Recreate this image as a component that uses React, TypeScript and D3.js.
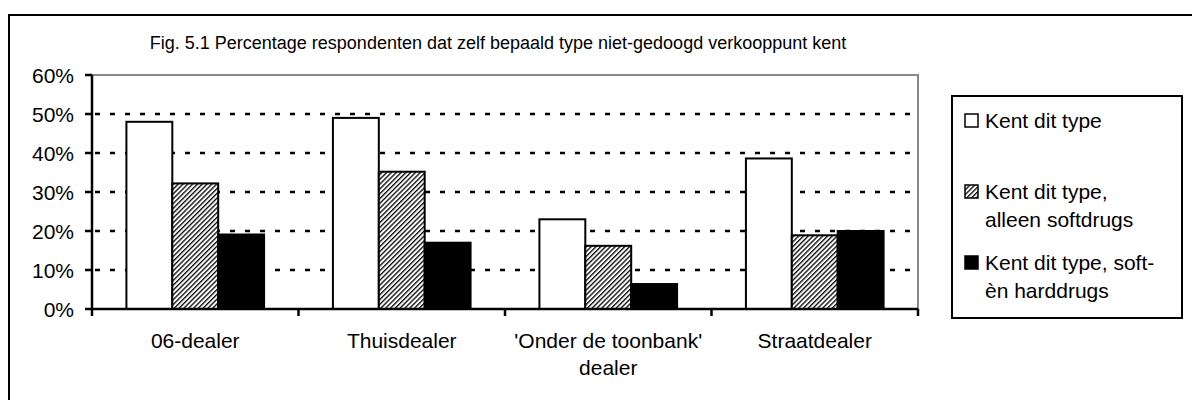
import React from 'react'
import * as d3 from 'd3'

const categories = ['06-dealer', 'Thuisdealer', "'Onder de toonbank' dealer", 'Straatdealer']
const categoryLines = [['06-dealer'], ['Thuisdealer'], ["'Onder de toonbank'", 'dealer'], ['Straatdealer']]
const series = ['kent', 'soft', 'hard']
const kentValues = [0.48, 0.49, 0.23, 0.386]
const softValues = [0.322, 0.352, 0.162, 0.189]
const hardValues = [0.191, 0.17, 0.064, 0.2]
const yTicks = [0, 0.1, 0.2, 0.3, 0.4, 0.5, 0.6]
const legendLabels = [['Kent dit type'], ['Kent dit type,', 'alleen softdrugs'], ['Kent dit type, soft-', 'èn harddrugs']]

const title = 'Fig. 5.1 Percentage respondenten dat zelf bepaald type niet-gedoogd verkooppunt kent'
const font = '"Liberation Sans", Arial, sans-serif'

const left = 92
const right = 918
const top = 75
const bottom = 309

const x0 = d3.scaleBand().domain(categories).range([left, right])
const x1 = d3
  .scaleBand()
  .domain(series)
  .range([0, x0.bandwidth()])
  .paddingInner(0)
  .paddingOuter(0.75)
const y = d3.scaleLinear().domain([0, 0.6]).range([bottom, top])

const valuesBySeries = [kentValues, softValues, hardValues]
const fills = ['#fff', 'url(#hatch)', '#000']

// legend baselines per item (layout)
const legendRows = [[128], [199, 227], [270, 298]]

export default function App() {
  return (
    <svg
      width={1192}
      height={400}
      style={{ position: 'absolute', left: 0, top: 0, background: '#fff' }}
      fontFamily={font}
      fontSize={21}
    >
      <defs>
        <pattern id="hatch" patternUnits="userSpaceOnUse" width={3.4} height={3.4} patternTransform="rotate(45)">
          <rect width={3.4} height={3.4} fill="#fff" />
          <line x1={0.7} y1={0} x2={0.7} y2={3.4} stroke="#000" strokeWidth={1.3} />
        </pattern>
      </defs>

      <rect x={9} y={15} width={1250} height={450} fill="none" stroke="#000" strokeWidth={2} />

      <text x={498} y={49} textAnchor="middle" fill="#000" fontSize={18}>
        {title}
      </text>

      {/* gridlines */}
      {yTicks
        .filter(t => t > 0 && t < 0.6)
        .map(t => (
          <line
            key={t}
            x1={left}
            x2={right}
            y1={y(t)}
            y2={y(t)}
            stroke="#000"
            strokeWidth={2.5}
            strokeDasharray="5 10"
            strokeDashoffset={-3}
          />
        ))}

      {/* plot area border (top and right) */}
      <polyline
        points={`${left},${y(0.6)} ${right},${y(0.6)} ${right},${y(0)}`}
        fill="none"
        stroke="#888"
        strokeWidth={2}
      />

      {/* bars */}
      {categories.map((c, i) => (
        <g key={c} transform={`translate(${x0(c)},0)`}>
          {series.map((s, j) => (
            <rect
              key={s}
              x={x1(s)}
              y={y(valuesBySeries[j][i])}
              width={x1.bandwidth()}
              height={y(0) - y(valuesBySeries[j][i])}
              fill={fills[j]}
              stroke="#000"
              strokeWidth={2}
            />
          ))}
        </g>
      ))}

      {/* y axis */}
      <line x1={left} x2={left} y1={top} y2={bottom} stroke="#000" strokeWidth={2.5} />
      {yTicks.map(t => (
        <g key={t}>
          <line x1={left - 7} x2={left} y1={y(t)} y2={y(t)} stroke="#000" strokeWidth={2.5} />
          <text x={74} y={y(t)} dy="0.36em" textAnchor="end" fill="#000">
            {d3.format('.0%')(t)}
          </text>
        </g>
      ))}

      {/* x axis */}
      <line x1={left} x2={right} y1={bottom} y2={bottom} stroke="#000" strokeWidth={2.5} />
      {[...categories.map(c => x0(c) as number), right].map(v => (
        <line key={v} x1={v} x2={v} y1={bottom} y2={bottom + 7} stroke="#000" strokeWidth={2.5} />
      ))}
      {categories.map((c, i) => (
        <text key={c} x={(x0(c) as number) + x0.bandwidth() / 2} y={348} textAnchor="middle" fill="#000">
          {categoryLines[i].map((l, k) => (
            <tspan key={k} x={(x0(c) as number) + x0.bandwidth() / 2} dy={k === 0 ? 0 : 27}>
              {l}
            </tspan>
          ))}
        </text>
      ))}

      {/* legend */}
      <rect x={952} y={96} width={230} height={222} fill="#fff" stroke="#000" strokeWidth={2} />
      {legendLabels.map((lines, i) => (
        <g key={i}>
          <rect
            x={965}
            y={legendRows[i][0] - 14}
            width={13}
            height={13}
            fill={fills[i]}
            stroke="#000"
            strokeWidth={1.5}
          />
          {lines.map((l, k) => (
            <text key={k} x={985} y={legendRows[i][k]} fill="#000">
              {l}
            </text>
          ))}
        </g>
      ))}
    </svg>
  )
}
